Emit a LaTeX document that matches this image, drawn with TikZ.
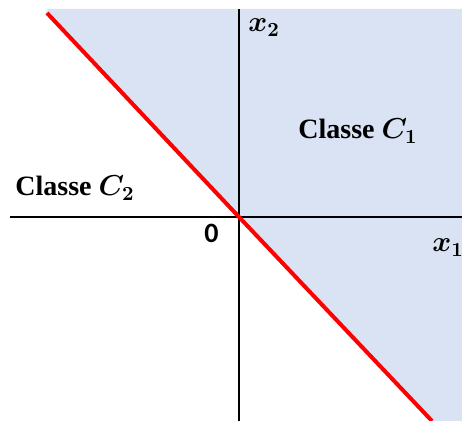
\documentclass[tikz,border=0pt]{standalone}
\usepackage{fontspec}
\setmainfont{Liberation Serif}
\newfontfamily\zerofont{Carlito}
\usepackage{amsmath}
\usepackage{bm}
\usetikzlibrary{positioning}
\definecolor{classblue}{RGB}{218, 227, 243}
\definecolor{boundred}{RGB}{255, 0, 0}

\begin{document}
\begin{tikzpicture}[x=0.5pt, y=0.5pt,
    axis/.style={line width=1pt, color=black},
    boundary/.style={line width=2pt, color=boundred},
    classlabel/.style={font=\fontsize{14}{16}\selectfont\bfseries\boldmath, inner sep=0pt}]
        \useasboundingbox (-239, -204) rectangle (223, 217);

        % Half-plane of class C1
        \fill[classblue] (-191, 208) -- (223, 208) -- (223, -204) -- (193, -204) -- (0, 0) -- (-193, 204) -- cycle;

        % Axes
        \coordinate (origin) at (0, 0);
        \coordinate (xleft) at (-229, 0);
        \coordinate (xright) at (223, 0);
        \coordinate (ytop) at (0, 208);
        \coordinate (ybottom) at (0, -204);
        \draw[axis] (xleft) -- (xright);
        \draw[axis] (ybottom) -- (ytop);

        % Decision boundary
        \coordinate (bstart) at (-192, 204);
        \coordinate (bend) at (193, -204);
        \draw[boundary] (bstart) -- (origin) -- (bend);

        % Labels
        \node[classlabel, anchor=base west] (xtwo) at (9, 185) {$x_2$};
        \node[classlabel, anchor=base west] (xone) at (193, -35) {$x_1$};
        \node[font=\zerofont\fontsize{14}{16}\selectfont\bfseries, inner sep=0pt, anchor=base east] (zero) at (-20, -26) {0};
        \node[classlabel, anchor=base west] (classone) at (59, 78) {Classe $C_1$};
        \node[classlabel, anchor=base west] (classtwo) at (-224, 21) {Classe $C_2$};
    \end{tikzpicture}
\end{document}
